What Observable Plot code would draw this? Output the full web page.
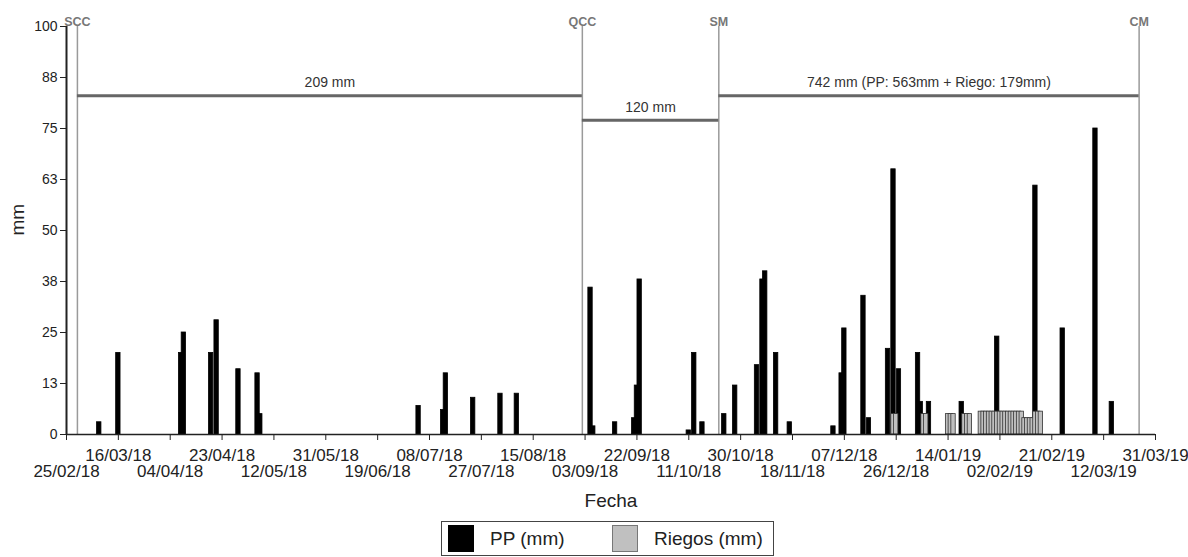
<!DOCTYPE html>
<html>
<head>
<meta charset="utf-8">
<script src="https://cdn.jsdelivr.net/npm/d3@7"></script>
<script src="https://cdn.jsdelivr.net/npm/@observablehq/plot@0.6"></script>
<style>
  body { margin: 0; background: #fff; font-family: "Liberation Sans", Arial, sans-serif; }
  #wrap { position: relative; width: 1188px; height: 557px; }
  #legend { position: absolute; left: 441px; top: 521px; width: 331px; height: 33px; border: 1px solid #444; box-sizing: content-box; }
  #legend .sw { position: absolute; top: 3px; width: 26px; height: 27px; box-sizing: border-box; }
  #legend .lab { position: absolute; top: 0; line-height: 34px; font-size: 19px; color: #222; white-space: nowrap; }
</style>
</head>
<body>
<div id="wrap">
  <div id="chart"></div>
  <div id="legend">
    <div class="sw" style="left:6px;background:#000;border:1px solid #000;"></div>
    <div class="lab" style="left:48px;">PP (mm)</div>
    <div class="sw" style="left:170px;background:#c0c0c0;border:1.5px solid #777;"></div>
    <div class="lab" style="left:212px;">Riegos (mm)</div>
  </div>
</div>
<script>
// ---- Data ----
const ppDates = [
  "09/03/18","16/03/18","08/04/18","09/04/18","19/04/18","21/04/18","29/04/18","06/05/18","07/05/18",
  "04/07/18","13/07/18","14/07/18","24/07/18","03/08/18","09/08/18",
  "05/09/18","06/09/18","14/09/18","21/09/18","22/09/18","23/09/18","11/10/18","13/10/18","16/10/18",
  "24/10/18","28/10/18","05/11/18","07/11/18","08/11/18","12/11/18","17/11/18",
  "03/12/18","06/12/18","07/12/18","14/12/18","16/12/18","23/12/18","25/12/18","27/12/18",
  "03/01/19","04/01/19","07/01/19","19/01/19","01/02/19","15/02/19","25/02/19","09/03/19","15/03/19"
];
const ppValues = [
  3, 20, 20, 25, 20, 28, 16, 15, 5,
  7, 6, 15, 9, 10, 10,
  36, 2, 3, 4, 12, 38, 1, 20, 3,
  5, 12, 17, 38, 40, 20, 3,
  2, 15, 26, 34, 4, 21, 65, 16,
  20, 8, 8, 8, 24, 61, 26, 75, 8
];
const riegoDates = [
  "25/12/18","26/12/18","05/01/19","06/01/19","14/01/19","15/01/19","16/01/19",
  "20/01/19","21/01/19","22/01/19",
  "26/01/19","27/01/19","28/01/19","29/01/19","30/01/19","31/01/19",
  "01/02/19","02/02/19","03/02/19","04/02/19","05/02/19","06/02/19","07/02/19","08/02/19","09/02/19","10/02/19",
  "11/02/19","12/02/19","13/02/19","14/02/19",
  "15/02/19","16/02/19","17/02/19"
];
const riegoValues = [
  5, 5, 5, 5, 5, 5, 5,
  5, 5, 5,
  5.6, 5.6, 5.6, 5.6, 5.6, 5.6,
  5.6, 5.6, 5.6, 5.6, 5.6, 5.6, 5.6, 5.6, 5.6, 5.6,
  4, 4, 4, 4,
  5.6, 5.6, 5.6
];
const xTickLabels = [
  "25/02/18","16/03/18","04/04/18","23/04/18","12/05/18","31/05/18","19/06/18","08/07/18",
  "27/07/18","15/08/18","03/09/18","22/09/18","11/10/18","30/10/18","18/11/18","07/12/18",
  "26/12/18","14/01/19","02/02/19","21/02/19","12/03/19","31/03/19"
];
const yTicks = [0, 12.5, 25, 37.5, 50, 62.5, 75, 87.5, 100];
const stageNames = ["SCC", "QCC", "SM", "CM"];
const stageDates = ["01/03/18", "02/09/18", "22/10/18", "25/03/19"];
const periodLabels = ["209 mm", "120 mm", "742 mm (PP: 563mm + Riego: 179mm)"];
const periodLevels = [83, 77, 83];

// ---- Build tables ----
const parse = d3.utcParse("%d/%m/%y");
const fmt = d3.utcFormat("%d/%m/%y");
const DAY = 864e5;
const pp = ppDates.map((d, i) => ({date: parse(d), value: ppValues[i]}));
const riego = riegoDates.map((d, i) => ({date: parse(d), value: riegoValues[i]}));
const xTicks = xTickLabels.map(parse);
const upperTicks = xTicks.filter((d, i) => i % 2 === 1);
const lowerTicks = xTicks.filter((d, i) => i % 2 === 0);
const stages = stageNames.map((n, i) => ({name: n, date: parse(stageDates[i])}));
const periods = periodLabels.map((t, i) => ({
  label: t, level: periodLevels[i], start: stages[i].date, end: stages[i + 1].date
}));
const xDomain = [xTicks[0], xTicks[xTicks.length - 1]];
const half = 0.8 * DAY;

const chart = Plot.plot({
  width: 1188,
  height: 518,
  marginLeft: 66,
  marginRight: 33,
  marginTop: 26,
  marginBottom: 84,
  style: {fontFamily: "Liberation Sans, Arial, sans-serif", fontSize: "14px", color: "#222", background: "#fff"},
  x: {type: "utc", domain: xDomain},
  y: {domain: [0, 100]},
  marks: [
    Plot.ruleX(stages, {x: "date", y1: () => 0, y2: () => 100, stroke: "#9a9a9a", strokeWidth: 1.5}),
    Plot.text(stages, {x: "date", text: "name", frameAnchor: "top", dy: -9, fontSize: 12.5, fontWeight: "bold", fill: "#777"}),
    Plot.ruleY(periods, {y: "level", x1: "start", x2: "end", stroke: "#666", strokeWidth: 3}),
    Plot.text(periods, {x: d => new Date((+d.start + +d.end) / 2), y: "level", text: "label", dy: -13, fontSize: 14, fill: "#333"}),
    Plot.rect(pp, {x1: d => new Date(+d.date - half), x2: d => new Date(+d.date + half), y1: () => 0, y2: "value", fill: "#000", stroke: "#000", strokeWidth: 0.8}),
    Plot.rect(riego, {x1: d => new Date(+d.date - half), x2: d => new Date(+d.date + half), y1: () => 0, y2: "value", fill: "#c0c0c0", stroke: "#333", strokeWidth: 0.8}),
    Plot.ruleY([0], {stroke: "#222", strokeWidth: 1.5}),
    Plot.ruleX([xDomain[0]], {stroke: "#222", strokeWidth: 2}),
    Plot.axisY(yTicks, {tickSize: 6, tickPadding: 3, tickFormat: d => Math.round(d), fontSize: 14, label: null, stroke: "#222"}),
    Plot.axisX(upperTicks, {tickSize: 6, tickPadding: 8, tickFormat: fmt, fontSize: 17, label: null, stroke: "#222"}),
    Plot.axisX(lowerTicks, {tickSize: 6, tickPadding: 24, tickFormat: fmt, fontSize: 17, label: null, stroke: "#222"}),
    Plot.text(["mm"], {frameAnchor: "left", dx: -49, dy: 5, rotate: -90, fontSize: 19, fill: "#222"}),
    Plot.text(["Fecha"], {frameAnchor: "bottom", dy: 72, fontSize: 19, fill: "#222"})
  ]
});
document.getElementById("chart").appendChild(chart);
</script>
</body>
</html>
